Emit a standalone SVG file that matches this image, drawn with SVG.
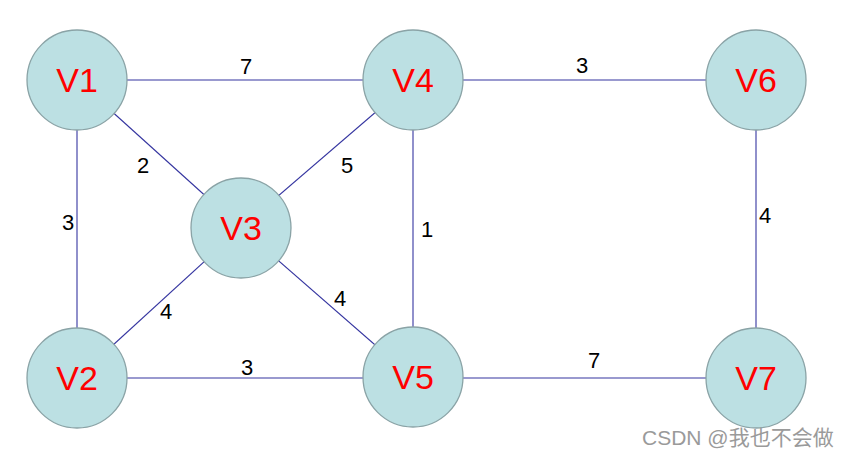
<svg xmlns="http://www.w3.org/2000/svg" width="850" height="458" viewBox="0 0 850 458">
<style>
.e{stroke:#3535a0;stroke-width:1.1;fill:none}
.n circle{fill:#bce0e3;stroke:#8aa3a6;stroke-width:1.3}
.n text{font-family:"Liberation Sans",Arial,sans-serif;font-size:34px;fill:#ff0000;text-anchor:middle}
.w{font-family:"Liberation Sans",Arial,sans-serif;font-size:22px;fill:#000;text-anchor:middle}
.wm{font-family:"Liberation Sans","Noto Sans CJK SC",sans-serif;font-size:21px;fill:#9a9a9a}
</style>
<rect width="850" height="458" fill="#fff"/>
<g id="edges">
<line class="e" x1="77" y1="80" x2="413" y2="80"/>
<line class="e" x1="413" y1="80" x2="756" y2="80"/>
<line class="e" x1="77" y1="80" x2="77" y2="378"/>
<line class="e" x1="413" y1="80" x2="413" y2="378"/>
<line class="e" x1="756" y1="80" x2="756" y2="378"/>
<line class="e" x1="77" y1="378" x2="413" y2="378"/>
<line class="e" x1="413" y1="378" x2="756" y2="378"/>
<line class="e" x1="77" y1="80" x2="241" y2="228"/>
<line class="e" x1="413" y1="80" x2="241" y2="228"/>
<line class="e" x1="77" y1="378" x2="241" y2="228"/>
<line class="e" x1="413" y1="378" x2="241" y2="228"/>
<text class="w" x="246" y="74">7</text>
<text class="w" x="582" y="73">3</text>
<text class="w" x="143" y="173">2</text>
<text class="w" x="347" y="173">5</text>
<text class="w" x="68" y="230">3</text>
<text class="w" x="427" y="237">1</text>
<text class="w" x="765" y="223">4</text>
<text class="w" x="166" y="319">4</text>
<text class="w" x="340" y="306">4</text>
<text class="w" x="247" y="375">3</text>
<text class="w" x="594" y="368">7</text>
</g>
<g id="V1" class="n"><circle cx="77" cy="80" r="50"/><text x="77" y="92">V1</text></g>
<g id="V4" class="n"><circle cx="413" cy="80" r="50"/><text x="413" y="92">V4</text></g>
<g id="V6" class="n"><circle cx="756" cy="80" r="50"/><text x="756" y="92">V6</text></g>
<g id="V3" class="n"><circle cx="241" cy="228" r="50"/><text x="241" y="240">V3</text></g>
<g id="V2" class="n"><circle cx="77" cy="378" r="50"/><text x="77" y="390">V2</text></g>
<g id="V5" class="n"><circle cx="413" cy="377" r="50"/><text x="413" y="389">V5</text></g>
<g id="V7" class="n"><circle cx="756" cy="378" r="50"/><text x="756" y="390">V7</text></g>
<text class="wm" x="642" y="445">CSDN @我也不会做</text>
</svg>
